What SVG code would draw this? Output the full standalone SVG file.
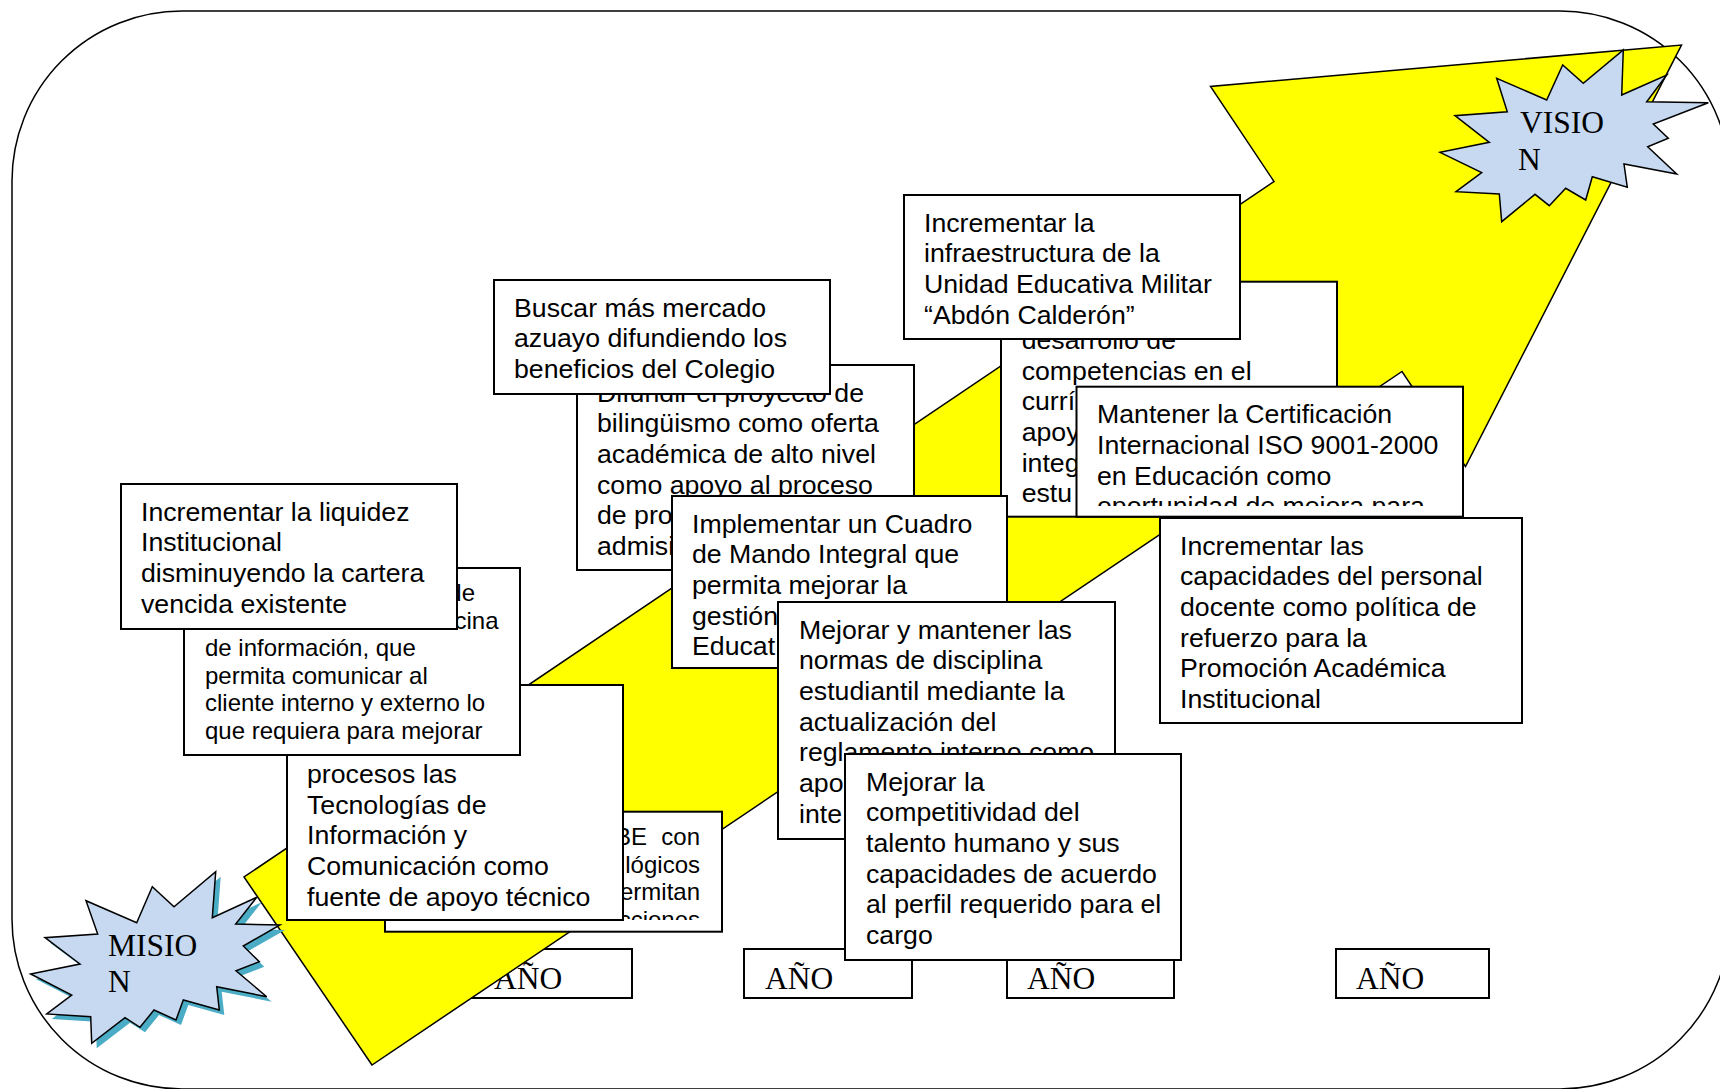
<svg xmlns="http://www.w3.org/2000/svg" width="1720" height="1089" viewBox="0 0 1720 1089">
<style>
.box{fill:#fff;stroke:#000;stroke-width:2}
.t{font-family:"Liberation Sans",Arial,sans-serif;font-size:26.7px;fill:#000}
.s{font-size:24px}
.ser{font-family:"Liberation Serif","Times New Roman",serif;font-size:31.5px;fill:#000}
.star{fill:#C6D9F1;stroke:#000;stroke-width:1.5}
</style>
<defs>
<clipPath id="clipMant"><rect x="1076" y="386" width="388" height="120"/></clipPath>
<clipPath id="clipBE"><rect x="385" y="811" width="337" height="109"/></clipPath>
</defs>
<rect id="frame" x="12" y="11" width="1718" height="1078" rx="170" ry="170" fill="#fff" stroke="#000" stroke-width="1.5"/>
<g id="anio1"><rect class="box" x="472" y="949" width="160" height="49"/><text class="ser" x="494" y="989">AÑO</text></g>
<g id="arrow"><polygon points="372,1065 244,877 1274,181.5 1210.5,86.5 1681.5,45 1465.5,466.5 1402,371.5" fill="#FFFF00" stroke="#000" stroke-width="1.5" stroke-linejoin="miter"/></g>
<g id="connectors"></g>
<g id="anio2"><rect class="box" x="744" y="949" width="168" height="49"/><text class="ser" x="765" y="989">AÑO</text></g>
<g id="anio3"><rect class="box" x="1007" y="949" width="167" height="49"/><text class="ser" x="1027" y="989">AÑO</text></g>
<g id="anio4"><rect class="box" x="1336" y="949" width="153" height="49"/><text class="ser" x="1356" y="989">AÑO</text></g>
<g id="mision">
<polygon points="30.7,974 80,964 45,937.7 97.7,934 86,900.7 136.7,922.7 152.3,886.7 174,906.7 215.7,871.7 212.3,917.7 256.7,897.3 235.7,924 280,925 243.3,946 259.3,961.7 236,970.7 266.7,996.7 216.7,986.7 219.3,1010 183.3,1000 176,1020 154,1010 140,1027.3 125,1017.7 91.7,1043.3 90.7,1016.7 46.7,1014 71.7,995" fill="#4BACC6" transform="translate(5,5)"/>
<polygon class="star" points="30.7,974 80,964 45,937.7 97.7,934 86,900.7 136.7,922.7 152.3,886.7 174,906.7 215.7,871.7 212.3,917.7 256.7,897.3 235.7,924 280,925 243.3,946 259.3,961.7 236,970.7 266.7,996.7 216.7,986.7 219.3,1010 183.3,1000 176,1020 154,1010 140,1027.3 125,1017.7 91.7,1043.3 90.7,1016.7 46.7,1014 71.7,995"/>
<text class="ser"><tspan x="108" y="955.7">MISIO</tspan><tspan x="108" y="992">N</tspan></text>
</g>
<g id="vision">
<polygon class="star" points="1623.3,50 1621.7,95 1666.7,75 1646.7,101.7 1708.3,102.7 1653.3,124 1668.3,138.3 1647.7,146.7 1676.7,174 1624,164 1627.3,187.3 1592.3,176.7 1585.7,200 1565.7,188.3 1549.3,205.7 1535,194.3 1501.7,221.7 1499.3,194 1456,191.7 1481.7,172.7 1440,152.3 1489.3,142.3 1455,115.7 1507.3,111.7 1496.7,78.3 1546.7,100 1562.7,65 1583.3,83.3"/>
<text class="ser"><tspan x="1520" y="133.3">VISIO</tspan><tspan x="1518" y="170">N</tspan></text>
</g>
<g id="difundir"><rect class="box" x="577" y="365" width="337" height="205"/>
<text class="t"><tspan x="597" y="401.5">Difundir el proyecto de</tspan><tspan x="597" y="432.2">bilingüismo como oferta</tspan><tspan x="597" y="462.9">académica de alto nivel</tspan><tspan x="597" y="493.6">como apoyo al proceso</tspan><tspan x="597" y="524.3">de pro</tspan><tspan x="597" y="555">admisi</tspan></text></g>
<g id="buscar"><rect class="box" x="494" y="280" width="336" height="114"/>
<text class="t"><tspan x="514" y="316.5">Buscar más mercado</tspan><tspan x="514" y="347.2">azuayo difundiendo los</tspan><tspan x="514" y="377.9">beneficios del Colegio</tspan></text></g>
<g id="desarrollo"><rect class="box" x="1001" y="281.7" width="336" height="235"/>
<text class="t"><tspan x="1021.7" y="348.9">desarrollo de</tspan><tspan x="1021.7" y="379.6">competencias en el</tspan><tspan x="1021.7" y="410.3">currí</tspan><tspan x="1021.7" y="441">apoy</tspan><tspan x="1021.7" y="471.7">integ</tspan><tspan x="1021.7" y="502.4">estu</tspan></text></g>
<g id="infraestructura"><rect class="box" x="904" y="195" width="336" height="144"/>
<text class="t"><tspan x="924" y="231.5">Incrementar la</tspan><tspan x="924" y="262.2">infraestructura de la</tspan><tspan x="924" y="292.9">Unidad Educativa Militar</tspan><tspan x="924" y="323.6">“Abdón Calderón”</tspan></text></g>
<g id="certificacion"><rect class="box" x="1076.5" y="386.7" width="386.5" height="130"/>
<text class="t" clip-path="url(#clipMant)"><tspan x="1097" y="423.2">Mantener la Certificación</tspan><tspan x="1097" y="453.9">Internacional ISO 9001-2000</tspan><tspan x="1097" y="484.6">en Educación como</tspan><tspan x="1097" y="515.3">oportunidad de mejora para</tspan></text></g>
<g id="cuadro-mando"><rect class="box" x="672" y="496" width="335" height="172"/>
<text class="t"><tspan x="692" y="532.5">Implementar un Cuadro</tspan><tspan x="692" y="563.2">de Mando Integral que</tspan><tspan x="692" y="593.9">permita mejorar la</tspan><tspan x="692" y="624.6">gestión</tspan><tspan x="692" y="655.3">Educat</tspan></text></g>
<g id="disciplina"><rect class="box" x="778" y="602" width="337" height="237"/>
<text class="t"><tspan x="799" y="638.5">Mejorar y mantener las</tspan><tspan x="799" y="669.2">normas de disciplina</tspan><tspan x="799" y="699.9">estudiantil mediante la</tspan><tspan x="799" y="730.6">actualización del</tspan><tspan x="799" y="761.3">reglamento interno como</tspan><tspan x="799" y="792">apo</tspan><tspan x="799" y="822.7">inte</tspan></text></g>
<g id="competitividad"><rect class="box" x="845" y="754" width="336" height="206"/>
<text class="t"><tspan x="866" y="790.5">Mejorar la</tspan><tspan x="866" y="821.2">competitividad del</tspan><tspan x="866" y="851.9">talento humano y sus</tspan><tspan x="866" y="882.6">capacidades de acuerdo</tspan><tspan x="866" y="913.3">al perfil requerido para el</tspan><tspan x="866" y="944">cargo</tspan></text></g>
<g id="capacidades"><rect class="box" x="1160" y="518" width="362" height="205"/>
<text class="t"><tspan x="1180" y="554.5">Incrementar las</tspan><tspan x="1180" y="585.2">capacidades del personal</tspan><tspan x="1180" y="615.9">docente como política de</tspan><tspan x="1180" y="646.6">refuerzo para la</tspan><tspan x="1180" y="677.3">Promoción Académica</tspan><tspan x="1180" y="708">Institucional</tspan></text></g>
<g id="tecnologicos"><rect class="box" x="385" y="811.7" width="337" height="120"/>
<text class="t s" clip-path="url(#clipBE)" text-anchor="end"><tspan x="647" y="845">BE</tspan><tspan x="700" y="845">con</tspan><tspan x="700" y="872.5">lógicos</tspan><tspan x="700" y="900">ermitan</tspan><tspan x="700" y="927.5">cciones</tspan></text></g>
<g id="tic"><rect class="box" x="287" y="685" width="336" height="235"/>
<text class="t"><tspan x="307" y="782.9">procesos las</tspan><tspan x="307" y="813.6">Tecnologías de</tspan><tspan x="307" y="844.3">Información y</tspan><tspan x="307" y="875">Comunicación como</tspan><tspan x="307" y="905.7">fuente de apoyo técnico</tspan></text></g>
<g id="informacion"><rect class="box" x="184" y="568" width="336" height="187"/>
<text class="t s"><tspan x="475" y="601" text-anchor="end">de</tspan><tspan x="498.5" y="628.5" text-anchor="end">cina</tspan><tspan x="205" y="656">de información, que</tspan><tspan x="205" y="683.5">permita comunicar al</tspan><tspan x="205" y="711">cliente interno y externo lo</tspan><tspan x="205" y="738.5">que requiera para mejorar</tspan></text></g>
<g id="liquidez"><rect class="box" x="121" y="484" width="336" height="145"/>
<text class="t"><tspan x="141" y="520.5">Incrementar la liquidez</tspan><tspan x="141" y="551.2">Institucional</tspan><tspan x="141" y="581.9">disminuyendo la cartera</tspan><tspan x="141" y="612.6">vencida existente</tspan></text></g>
</svg>
